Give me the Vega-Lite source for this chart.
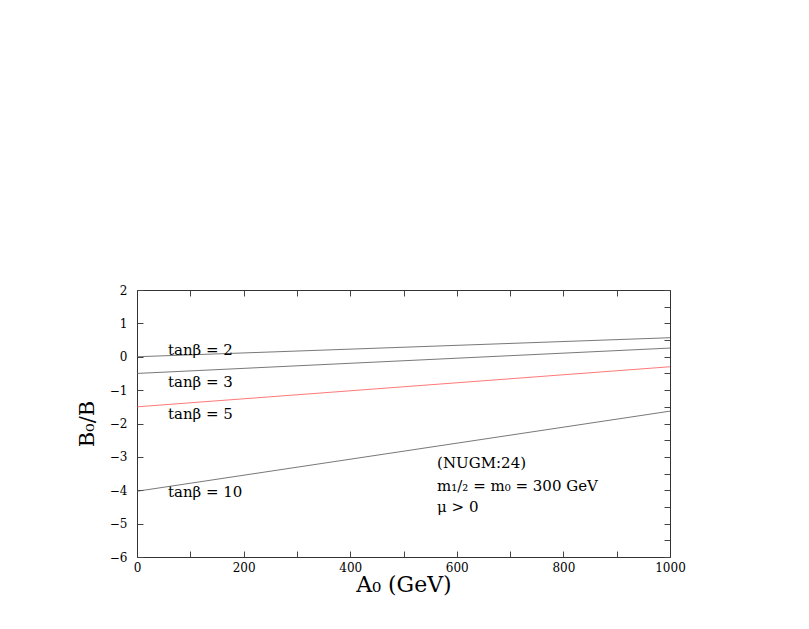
{
  "$schema": "https://vega.github.io/schema/vega-lite/v6.json",
  "width": 533,
  "height": 267,
  "autosize": "none",
  "padding": {"left": 137, "top": 290, "right": 139, "bottom": 72},
  "background": "white",
  "config": {
    "view": {"stroke": null},
    "font": "DejaVu Serif",
    "axis": {
      "grid": false,
      "domainColor": "#333",
      "tickColor": "#444",
      "tickWidth": 1,
      "ticks": true,
      "labelFont": "DejaVu Serif",
      "labelFontSize": 12,
      "labelColor": "black",
      "labelOverlap": false,
      "titleFont": "DejaVu Serif",
      "titleFontWeight": "normal",
      "titleColor": "black",
      "zindex": 1
    }
  },
  "datasets": {
    "lines": [
      {"series": "tanβ = 2", "A0": 0, "ratio": 0.0},
      {"series": "tanβ = 2", "A0": 1000, "ratio": 0.57},
      {"series": "tanβ = 3", "A0": 0, "ratio": -0.5},
      {"series": "tanβ = 3", "A0": 1000, "ratio": 0.26},
      {"series": "tanβ = 5", "A0": 0, "ratio": -1.5},
      {"series": "tanβ = 5", "A0": 1000, "ratio": -0.3},
      {"series": "tanβ = 10", "A0": 0, "ratio": -4.03},
      {"series": "tanβ = 10", "A0": 1000, "ratio": -1.63}
    ],
    "labels": [
      {"text": "tanβ = 2", "A0": 58, "ratio": 0.2},
      {"text": "tanβ = 3", "A0": 58, "ratio": -0.75},
      {"text": "tanβ = 5", "A0": 58, "ratio": -1.72},
      {"text": "tanβ = 10", "A0": 58, "ratio": -4.05},
      {"text": "(NUGM:24)", "A0": 563, "ratio": -3.18},
      {"text": "m₁/₂ = m₀ = 300 GeV", "A0": 563, "ratio": -3.87},
      {"text": "μ > 0", "A0": 563, "ratio": -4.5}
    ]
  },
  "layer": [
    {
      "encoding": {
        "x": {
          "field": "A0", "type": "quantitative",
          "scale": {"domain": [0, 1000], "nice": false, "zero": false},
          "axis": {
            "orient": "bottom",
            "values": [0, 100, 200, 300, 400, 500, 600, 700, 800, 900, 1000],
            "format": "d",
            "labelExpr": "datum.value % 200 === 0 ? datum.label : ''",
            "labelOverlap": false,
            "tickSize": -6,
            "labelPadding": 11,
            "labelFlush": false,
            "title": "A₀  (GeV)",
            "titleFontSize": 22,
            "titlePadding": 1
          }
        },
        "y": {
          "field": "ratio", "type": "quantitative",
          "scale": {"domain": [-6, 2], "nice": false, "zero": false},
          "axis": {
            "orient": "left",
            "values": [-6, -5.5, -5, -4.5, -4, -3.5, -3, -2.5, -2, -1.5, -1, -0.5, 0, 0.5, 1, 1.5, 2],
            "format": "d",
            "labelExpr": "datum.value % 1 === 0 ? datum.label : ''",
            "labelOverlap": false,
            "tickSize": -6,
            "labelPadding": 16,
            "labelFlush": false,
            "title": "B₀/B",
            "titleFontSize": 21,
            "titlePadding": 12
          }
        }
      },
      "layer": [
        {
          "data": {"name": "lines"},
          "mark": {"type": "line", "strokeWidth": 0.8},
          "encoding": {
            "detail": {"field": "series"},
            "color": {
              "field": "series", "type": "nominal",
              "scale": {"domain": ["tanβ = 2", "tanβ = 3", "tanβ = 5", "tanβ = 10"], "range": ["#555", "#555", "#ff5555", "#555"]},
              "legend": null
            }
          }
        },
        {
          "data": {"name": "labels"},
          "mark": {"type": "text", "align": "left", "baseline": "middle", "fontSize": 15, "font": "DejaVu Serif", "color": "black"},
          "encoding": {
            "text": {"field": "text"}
          }
        }
      ]
    },
    {
      "data": {"name": "lines"},
      "mark": {"type": "line", "opacity": 0},
      "encoding": {
        "x": {
          "field": "A0", "type": "quantitative",
          "scale": {"domain": [0, 1000], "nice": false, "zero": false},
          "axis": {
            "orient": "top",
            "values": [0, 100, 200, 300, 400, 500, 600, 700, 800, 900, 1000],
            "labels": false,
            "tickSize": -6,
            "title": null
          }
        },
        "y": {
          "field": "ratio", "type": "quantitative",
          "scale": {"domain": [-6, 2], "nice": false, "zero": false},
          "axis": {
            "orient": "right",
            "values": [-6, -5.5, -5, -4.5, -4, -3.5, -3, -2.5, -2, -1.5, -1, -0.5, 0, 0.5, 1, 1.5, 2],
            "labels": false,
            "tickSize": -6,
            "title": null
          }
        }
      }
    }
  ],
  "resolve": {"scale": {"x": "independent", "y": "independent"}}
}
